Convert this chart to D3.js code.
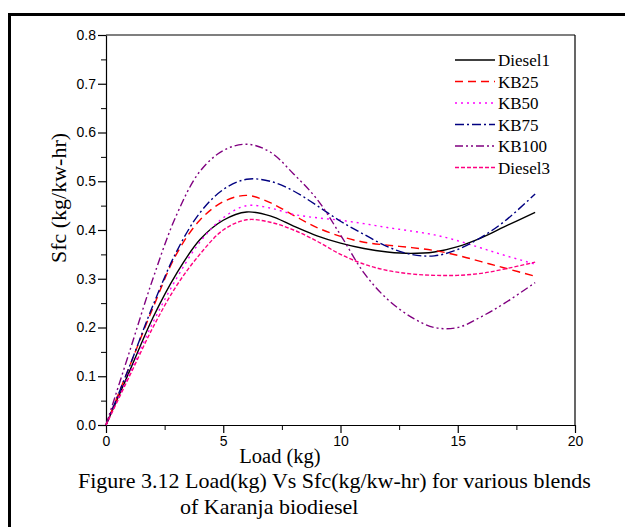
<!DOCTYPE html>
<html>
<head>
<meta charset="utf-8">
<script src="https://cdn.jsdelivr.net/npm/d3@7"></script>
<style>
  body { margin: 0; background: #fff; }
  svg { display: block; }
</style>
</head>
<body>
<script>
// Load values (kg)
const loads = [0, 1, 2, 3, 4, 5, 6, 7, 8, 9, 10, 11, 12, 13, 14, 15, 16, 17, 18.3];

// Sfc (kg/kw-hr) per blend
const diesel1 = [0, 0.11, 0.22, 0.31, 0.38, 0.42, 0.437, 0.429, 0.408, 0.388, 0.373, 0.362, 0.355, 0.352, 0.355, 0.366, 0.384, 0.407, 0.436];
const kb25    = [0, 0.12, 0.24, 0.35, 0.42, 0.458, 0.471, 0.456, 0.43, 0.405, 0.387, 0.375, 0.369, 0.364, 0.358, 0.348, 0.335, 0.322, 0.305];
const kb50    = [0, 0.105, 0.21, 0.3, 0.375, 0.425, 0.45, 0.445, 0.432, 0.425, 0.42, 0.413, 0.405, 0.398, 0.39, 0.378, 0.363, 0.348, 0.33];
const kb75    = [0, 0.12, 0.245, 0.355, 0.435, 0.483, 0.504, 0.5, 0.48, 0.45, 0.418, 0.391, 0.366, 0.35, 0.347, 0.36, 0.385, 0.418, 0.474];
const kb100   = [0, 0.15, 0.3, 0.43, 0.52, 0.563, 0.576, 0.56, 0.515, 0.463, 0.39, 0.312, 0.258, 0.222, 0.2, 0.2, 0.222, 0.25, 0.292];
const diesel3 = [0, 0.1, 0.2, 0.285, 0.35, 0.4, 0.421, 0.416, 0.4, 0.377, 0.35, 0.33, 0.317, 0.31, 0.307, 0.307, 0.311, 0.32, 0.334];

const seriesNames = ["Diesel1", "KB25", "KB50", "KB75", "KB100", "Diesel3"];
const seriesValues = [diesel1, kb25, kb50, kb75, kb100, diesel3];
const seriesColors = ["#000000", "#ff0000", "#ff00ff", "#000080", "#800080", "#ff0080"];
const seriesDashes = ["none", "8,5", "2,4", "9,3,2,3", "8,3,2,3,2,3", "4,2"];

const xTicks = [0, 5, 10, 15, 20];
const yTicks = [0, 0.1, 0.2, 0.3, 0.4, 0.5, 0.6, 0.7, 0.8];

const width = 625, height = 527;
const margin = { top: 35, right: 50, bottom: 102, left: 106 };
const plotWidth = width - margin.left - margin.right;
const plotHeight = height - margin.top - margin.bottom;
const serif = "Liberation Serif, Times New Roman, serif";

const svg = d3.select("body")
    .append("svg")
    .attr("width", width)
    .attr("height", height);

// outer figure frame
svg.append("rect")
    .attr("x", 9.5)
    .attr("y", 14.5)
    .attr("width", 640)
    .attr("height", 540)
    .attr("fill", "none")
    .attr("stroke", "#000")
    .attr("stroke-width", 3);

const g = svg.append("g")
    .attr("transform", `translate(${margin.left},${margin.top})`);

const x = d3.scaleLinear().domain([0, 20]).range([0, plotWidth]);
const y = d3.scaleLinear().domain([0, 0.8]).range([plotHeight, 0]);

// minor ticks
g.append("g")
    .attr("transform", `translate(0,${plotHeight})`)
    .call(d3.axisBottom(x).tickValues(d3.range(2.5, 20, 5)).tickSize(5).tickFormat(""))
    .call(a => a.select(".domain").remove());
g.append("g")
    .call(d3.axisLeft(y).tickValues(d3.range(0.05, 0.8, 0.1)).tickSize(5).tickFormat(""))
    .call(a => a.select(".domain").remove());

// main axes
const xAxis = g.append("g")
    .attr("transform", `translate(0,${plotHeight})`)
    .call(d3.axisBottom(x).tickValues(xTicks).tickSize(8).tickSizeOuter(0).tickPadding(3).tickFormat(d3.format("d")));
const yAxis = g.append("g")
    .call(d3.axisLeft(y).tickValues(yTicks).tickSize(8).tickSizeOuter(0).tickPadding(2).tickFormat(d3.format(".1f")));

[xAxis, yAxis].forEach(a => {
    a.selectAll("text")
        .attr("font-family", "Liberation Sans, Arial, sans-serif")
        .attr("font-size", 14)
        .attr("fill", "#000");
    a.selectAll("line, path").attr("stroke", "#000").attr("stroke-width", 1.2);
});

// top and right frame lines
g.append("line")
    .attr("x1", 0).attr("x2", plotWidth).attr("y1", 0).attr("y2", 0)
    .attr("stroke", "#000").attr("stroke-width", 1.2);
g.append("line")
    .attr("x1", plotWidth).attr("x2", plotWidth).attr("y1", 0).attr("y2", plotHeight)
    .attr("stroke", "#000").attr("stroke-width", 1.2);

// curves
const line = d3.line()
    .curve(d3.curveCatmullRom)
    .x((d, i) => x(loads[i]))
    .y(d => y(d));

seriesValues.forEach((vals, i) => {
    g.append("path")
        .datum(vals)
        .attr("fill", "none")
        .attr("stroke", seriesColors[i])
        .attr("stroke-width", 1.4)
        .attr("stroke-dasharray", seriesDashes[i])
        .attr("d", line);
});

// legend
const legend = svg.append("g").attr("font-family", serif);
seriesNames.forEach((name, i) => {
    const ly = 60 + i * 21.5;
    legend.append("line")
        .attr("x1", 455).attr("x2", 495)
        .attr("y1", ly).attr("y2", ly)
        .attr("stroke", seriesColors[i])
        .attr("stroke-width", 1.5)
        .attr("stroke-dasharray", seriesDashes[i]);
    legend.append("text")
        .attr("x", 498).attr("y", ly + 6)
        .attr("font-size", 17)
        .text(name);
});

// axis titles
svg.append("text")
    .attr("x", 280).attr("y", 463)
    .attr("text-anchor", "middle")
    .attr("font-family", serif)
    .attr("font-size", 20.5)
    .text("Load (kg)");

svg.append("text")
    .attr("transform", "translate(66,198) rotate(-90)")
    .attr("text-anchor", "middle")
    .attr("font-family", serif)
    .attr("font-size", 22)
    .text("Sfc (kg/kw-hr)");

// caption
svg.append("text")
    .attr("x", 78).attr("y", 488)
    .attr("font-family", serif)
    .attr("font-size", 22)
    .text("Figure 3.12 Load(kg) Vs Sfc(kg/kw-hr) for various blends");
svg.append("text")
    .attr("x", 180).attr("y", 514)
    .attr("font-family", serif)
    .attr("font-size", 22)
    .text("of Karanja biodiesel");
</script>
</body>
</html>
